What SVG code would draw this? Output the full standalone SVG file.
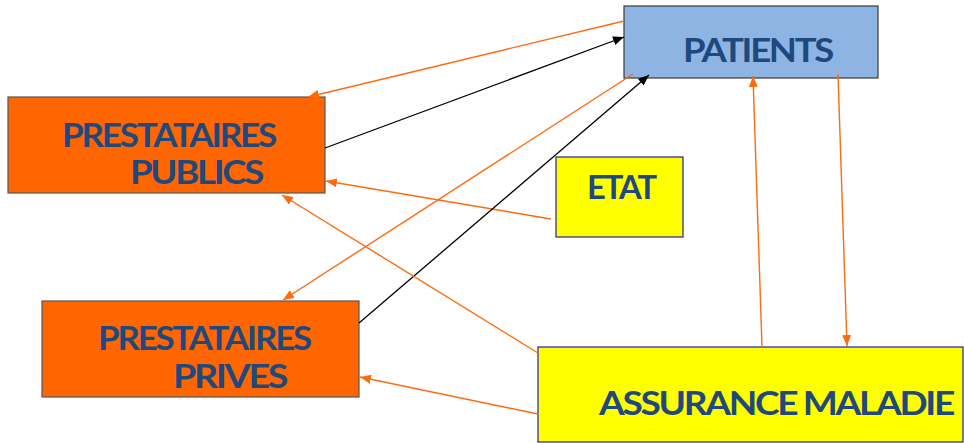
<svg xmlns="http://www.w3.org/2000/svg" width="964" height="443" viewBox="0 0 964 443">
<defs>
<style>
.lbl{font-family:Lato,"Open Sans","Liberation Sans",sans-serif;font-weight:bold;font-size:32px;fill:#1F497D;letter-spacing:-2px}
.orange{fill:#FF6600;stroke:#555555;stroke-width:1.2}
.yellow{fill:#FFFF00;stroke:#2020A0;stroke-width:1.2}
.blue{fill:#8EB4E3;stroke:#3a3a3a;stroke-width:1.2}
.co{stroke:#FF6A10;stroke-width:1.4;fill:none;marker-end:url(#ao)}
.cb{stroke:#000000;stroke-width:1.3;fill:none;marker-end:url(#ab)}
</style>
<marker id="ao" markerUnits="userSpaceOnUse" markerWidth="12" markerHeight="10" refX="11" refY="4.5" orient="auto"><path d="M0,0 L11,4.5 L0,9 z" fill="#FF6A10"/></marker>
<marker id="ab" markerUnits="userSpaceOnUse" markerWidth="12" markerHeight="10" refX="11" refY="4.5" orient="auto"><path d="M0,0 L11,4.5 L0,9 z" fill="#000000"/></marker>
</defs>
<rect width="964" height="443" fill="#ffffff"/>
<g id="patients">
<rect class="blue" x="624" y="6" width="254" height="72"/>
<text class="lbl" x="683" y="62" textLength="149" lengthAdjust="spacingAndGlyphs">PATIENTS</text>
</g>
<g id="prestataires-publics">
<rect class="orange" x="8" y="97" width="317" height="96"/>
<text class="lbl" x="62" y="147" textLength="213" lengthAdjust="spacingAndGlyphs">PRESTATAIRES</text>
<text class="lbl" x="130" y="184" textLength="132" lengthAdjust="spacingAndGlyphs">PUBLICS</text>
</g>
<g id="etat">
<rect class="yellow" x="556" y="157" width="127" height="80"/>
<text class="lbl" x="587" y="199" textLength="68" lengthAdjust="spacingAndGlyphs">ETAT</text>
</g>
<g id="prestataires-prives">
<rect class="orange" x="42" y="301" width="317" height="96"/>
<text class="lbl" x="98" y="350" textLength="212" lengthAdjust="spacingAndGlyphs">PRESTATAIRES</text>
<text class="lbl" x="173" y="388" textLength="113" lengthAdjust="spacingAndGlyphs">PRIVES</text>
</g>
<g id="assurance-maladie">
<rect class="yellow" x="538" y="347" width="425" height="95"/>
<text class="lbl" x="599" y="415" textLength="354" lengthAdjust="spacingAndGlyphs">ASSURANCE MALADIE</text>
</g>
<g id="connectors">
<line class="co" x1="624" y1="21" x2="308" y2="97"/>
<line class="cb" x1="325" y1="148" x2="624" y2="37"/>
<line class="co" x1="551" y1="219" x2="326" y2="181"/>
<line class="co" x1="633" y1="74" x2="283" y2="300"/>
<line class="cb" x1="359" y1="323" x2="649" y2="75"/>
<line class="co" x1="538" y1="353" x2="282" y2="195"/>
<line class="co" x1="538" y1="414" x2="360" y2="377"/>
<line class="co" x1="762" y1="347" x2="753" y2="76"/>
<line class="co" x1="838" y1="74" x2="847" y2="346"/>
</g>
</svg>
